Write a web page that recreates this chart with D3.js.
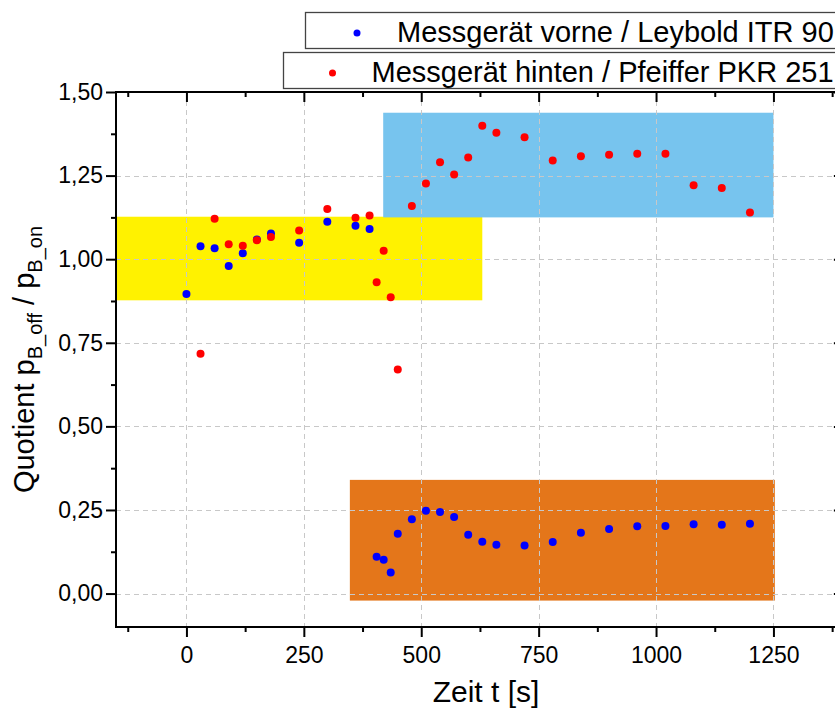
<!DOCTYPE html>
<html>
<head>
<meta charset="utf-8">
<script src="https://cdn.jsdelivr.net/npm/d3@7"></script>
<style>
  html, body { margin: 0; padding: 0; background: #fff; overflow: hidden; }
  svg { display: block; }
  text { font-family: "Liberation Sans", Arial, sans-serif; }
</style>
</head>
<body>
<svg id="chart" width="835" height="710"></svg>
<script>
// ---- data ----
const vorneX = [0,30,60,90,120,150,180,240,300,360,390,405,420,435,450,480,510,540,570,600,630,660,720,780,840,900,960,1020,1080,1140,1200];
const vorneY = [0.896,1.039,1.033,0.980,1.018,1.059,1.077,1.049,1.112,1.100,1.090,0.110,0.101,0.063,0.179,0.222,0.248,0.244,0.229,0.176,0.155,0.146,0.144,0.154,0.182,0.193,0.201,0.202,0.207,0.206,0.209];

const hintenX = [30,60,90,120,150,180,240,300,360,390,405,420,435,450,480,510,540,570,600,630,660,720,780,840,900,960,1020,1080,1140,1200];
const hintenY = [0.717,1.121,1.045,1.040,1.057,1.066,1.086,1.150,1.124,1.131,0.931,1.025,0.886,0.670,1.159,1.226,1.290,1.253,1.304,1.399,1.378,1.365,1.295,1.308,1.312,1.315,1.315,1.221,1.213,1.140];

const boxNames = ["yellow", "blue", "orange"];
const boxX0 = [-150, 419, 348];
const boxX1 = [630, 1250, 1253];
const boxY0 = [0.877, 1.125, -0.021];
const boxY1 = [1.127, 1.438, 0.340];
const boxColors = ["#fff200", "#77c4ee", "#e4761a"];

const xMajor = [0, 250, 500, 750, 1000, 1250];
const xMinor = [-125, 125, 375, 625, 875, 1125, 1375];
const yMajor = [0, 0.25, 0.5, 0.75, 1.0, 1.25, 1.5];
const yMinor = [-0.125, 0.125, 0.375, 0.625, 0.875, 1.125, 1.375];

const legendLabels = ["Messgerät vorne / Leybold ITR 90", "Messgerät hinten / Pfeiffer PKR 251"];
const seriesColors = ["#0000ff", "#ff0000"];

// ---- layout ----
const svg = d3.select("#chart");
const L = 116, T = 92, B = 627;
const x = d3.scaleLinear().domain([-150, 1400]).range([L, L + 1550 * 0.4696]);
const y = d3.scaleLinear().domain([-0.1, 1.5]).range([B, T]);
const R = x(1400);

// boxes
svg.append("g").selectAll("rect").data(boxNames).join("rect")
  .attr("x", (d, i) => x(boxX0[i]))
  .attr("y", (d, i) => y(boxY1[i]))
  .attr("width", (d, i) => x(boxX1[i]) - x(boxX0[i]))
  .attr("height", (d, i) => y(boxY0[i]) - y(boxY1[i]))
  .attr("fill", (d, i) => boxColors[i]);

// grid
const grid = svg.append("g").attr("stroke", "#c8c8c8").attr("stroke-width", 1).attr("stroke-dasharray", "5,4");
grid.selectAll(".gx").data(xMajor).join("line")
  .attr("x1", d => Math.round(x(d)) + 0.5).attr("x2", d => Math.round(x(d)) + 0.5)
  .attr("y1", T).attr("y2", B);
grid.selectAll(".gy").data(yMajor.filter(v => v < 1.5)).join("line")
  .attr("y1", d => Math.round(y(d)) + 0.5).attr("y2", d => Math.round(y(d)) + 0.5)
  .attr("x1", L).attr("x2", R);

// points
const pts = svg.append("g");
pts.selectAll(".pv").data(vorneX).join("circle")
  .attr("cx", (d) => x(d)).attr("cy", (d, i) => y(vorneY[i])).attr("r", 4)
  .attr("fill", seriesColors[0]);
pts.selectAll(".ph").data(hintenX).join("circle")
  .attr("cx", (d) => x(d)).attr("cy", (d, i) => y(hintenY[i])).attr("r", 4)
  .attr("fill", seriesColors[1]);

// axes
const fmtY = v => d3.format(".2f")(v).replace(".", ",");
const ax = svg.append("g");
function styleAxis(g) {
  g.select(".domain").remove();
  g.selectAll("line").attr("stroke", "#000").attr("stroke-width", 2);
  g.selectAll("text").attr("fill", "#000").style("font-size", "23px").style("font-family", "'Liberation Sans', Arial, sans-serif");
}
// bottom
ax.append("g").attr("transform", `translate(0,${B})`)
  .call(d3.axisBottom(x).tickValues(xMajor).tickSize(10).tickPadding(10).tickFormat(d3.format("d")))
  .call(styleAxis);
ax.append("g").attr("transform", `translate(0,${B})`)
  .call(d3.axisBottom(x).tickValues(xMinor).tickSize(5).tickFormat(""))
  .call(styleAxis);
// top (inward)
ax.append("g").attr("transform", `translate(0,${T})`)
  .call(d3.axisBottom(x).tickValues(xMajor).tickSize(10).tickFormat(""))
  .call(styleAxis);
ax.append("g").attr("transform", `translate(0,${T})`)
  .call(d3.axisBottom(x).tickValues(xMinor).tickSize(5).tickFormat(""))
  .call(styleAxis);
// left
ax.append("g").attr("transform", `translate(${L},0)`)
  .call(d3.axisLeft(y).tickValues(yMajor).tickSize(10).tickPadding(3).tickFormat(fmtY))
  .call(styleAxis);
ax.append("g").attr("transform", `translate(${L},0)`)
  .call(d3.axisLeft(y).tickValues(yMinor.filter(v => v > -0.1)).tickSize(5).tickFormat(""))
  .call(styleAxis);
// right (inward)
ax.append("g").attr("transform", `translate(${R},0)`)
  .call(d3.axisLeft(y).tickValues(yMajor).tickSize(10).tickFormat(""))
  .call(styleAxis);

// frame
svg.append("rect").attr("x", L).attr("y", T).attr("width", R - L).attr("height", B - T)
  .attr("fill", "none").attr("stroke", "#000").attr("stroke-width", 2);

// axis titles
svg.append("text").attr("x", 486).attr("y", 702)
  .attr("text-anchor", "middle").style("font-size", "30px").text("Zeit t [s]");

const yt = svg.append("text")
  .attr("transform", `translate(34,${(T + B) / 2}) rotate(-90)`)
  .attr("text-anchor", "middle").style("font-size", "29px");
yt.append("tspan").text("Quotient p");
yt.append("tspan").attr("dy", 8).style("font-size", "20px").text("B_off");
yt.append("tspan").attr("dy", -8).text(" / p");
yt.append("tspan").attr("dy", 8).style("font-size", "20px").text("B_on");

// legend
const lg = svg.append("g");
const lgBoxX = [305.5, 283.5];
const lgBoxY = [12.5, 52.5];
const lgDotX = [357, 332.5];
const lgTextX = [397, 371.5];
lg.selectAll("rect").data(legendLabels).join("rect")
  .attr("x", (d, i) => lgBoxX[i]).attr("y", (d, i) => lgBoxY[i])
  .attr("width", 700).attr("height", 36)
  .attr("fill", "#fff").attr("stroke", "#444").attr("stroke-width", 1.3);
lg.selectAll("circle").data(legendLabels).join("circle")
  .attr("cx", (d, i) => lgDotX[i]).attr("cy", (d, i) => lgBoxY[i] + 20.5).attr("r", 3.5)
  .attr("fill", (d, i) => seriesColors[i]);
lg.selectAll("text").data(legendLabels).join("text")
  .attr("x", (d, i) => lgTextX[i]).attr("y", (d, i) => lgBoxY[i] + 29.5)
  .style("font-size", "29px").attr("fill", "#000").text(d => d);
</script>
</body>
</html>
